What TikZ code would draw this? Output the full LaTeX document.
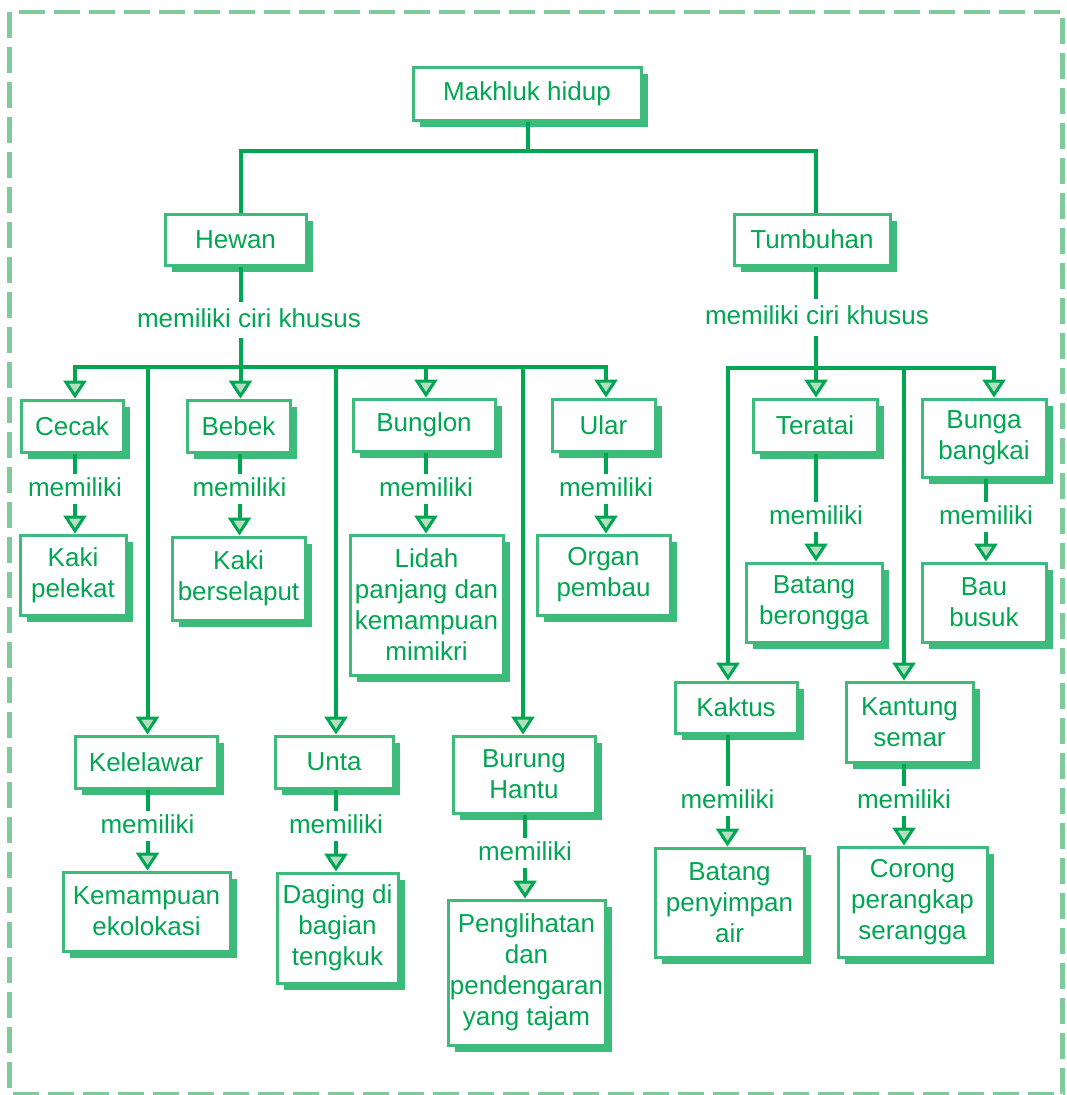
\documentclass[tikz,border=0pt]{standalone}
\usepackage{fontspec}
\setmainfont{Liberation Sans}
\usetikzlibrary{arrows.meta,shadows}
\definecolor{txtgreen}{RGB}{0,166,81}
\definecolor{linegreen}{RGB}{0,166,81}
\definecolor{boxgreen}{RGB}{61,187,122}
\definecolor{arrowfill}{RGB}{178,221,192}
\definecolor{framegreen}{RGB}{128,203,155}
\tikzset{
  box/.style={draw=boxgreen, line width=3pt, fill=white, inner sep=0pt,
    align=center, text=txtgreen,
    font=\fontsize{26}{31}\selectfont,
    general shadow={fill=boxgreen, shadow xshift=7pt, shadow yshift=-6.5pt}},
  lbl/.style={inner sep=0pt, text=txtgreen, font=\fontsize{26}{31}\selectfont,
    minimum height=29pt, text height=19pt, text depth=5pt},
  biglbl/.style={lbl, minimum height=36pt},
  ln/.style={draw=linegreen, line width=4pt},
  arr/.style={ln, -{Triangle[width=23pt 0 1,length=18pt 0 1,line width=3pt,fill=arrowfill]}},
}
\begin{document}
\begin{tikzpicture}[x=1pt,y=-1pt]
\useasboundingbox (0,0) rectangle (1066,1095);
\draw[framegreen, line width=4.5pt, dash pattern=on 26pt off 9pt] (9.5,12) rectangle (1062.5,1094);

% top level
\node[box, minimum width=228pt, minimum height=53pt] (mh) at (527,93.5) {Makhluk hidup};
\node[box, minimum width=141pt, minimum height=51pt] (hewan) at (235.5,239.5) {Hewan};
\node[box, minimum width=156pt, minimum height=51pt] (tumbuhan) at (812,239.5) {Tumbuhan};
\node[biglbl] (lh) at (249,320) {memiliki ciri khusus};
\node[biglbl] (lt) at (817,317.5) {memiliki ciri khusus};

\coordinate (j0) at (528,151);
\coordinate (hb) at (240.5,367);
\coordinate (tb) at (816,367.5);

\draw[ln] (j0 |- mh.south) -- (j0);
\draw[ln] (j0) -| (hb |- hewan.north);
\draw[ln] (j0) -| (tb |- tumbuhan.north);
\draw[ln] (hb |- hewan.south) -- (hb |- lh.north);
\draw[ln] (hb |- lh.south) -- (hb);
\draw[ln] (tb |- tumbuhan.south) -- (tb |- lt.north);
\draw[ln] (tb |- lt.south) -- (tb);

% Hewan children
\node[box, minimum width=102pt, minimum height=52pt] (cecak) at (72,426) {Cecak};
\node[box, minimum width=103pt, minimum height=52pt] (bebek) at (238.5,426) {Bebek};
\node[box, minimum width=142pt, minimum height=52pt] (bunglon) at (424,425) {Bunglon};
\node[box, minimum width=103pt, minimum height=52pt] (ular) at (603.5,425) {Ular};
\node[box, minimum width=142pt, minimum height=52pt] (kelelawar) at (146,762) {Kelelawar};
\node[box, minimum width=118pt, minimum height=52pt] (unta) at (334,762) {Unta};
\node[box, minimum width=142pt, minimum height=77pt] (burung) at (524,774.5) {Burung\\Hantu};

\coordinate (dCecak) at (75,367);
\coordinate (dKelelawar) at (147.5,367);
\coordinate (dUnta) at (336,367);
\coordinate (dBunglon) at (426,367);
\coordinate (dBurung) at (523,367);
\coordinate (dUlar) at (606,367);

\draw[arr] (hb) -| (dCecak |- cecak.north);
\draw[arr] (hb) -| (dUlar |- ular.north);
\draw[arr] (hb) -- (hb |- bebek.north);
\draw[arr] (dBunglon) -- (dBunglon |- bunglon.north);
\draw[arr] (dKelelawar) -- (dKelelawar |- kelelawar.north);
\draw[arr] (dUnta) -- (dUnta |- unta.north);
\draw[arr] (dBurung) -- (dBurung |- burung.north);

% Hewan grandchildren
\node[box, minimum width=106pt, minimum height=80pt] (kaki1) at (73,575) {Kaki\\pelekat};
\node[box, minimum width=133pt, minimum height=83pt] (kaki2) at (238.5,578.5) {Kaki\\berselaput};
\node[box, minimum width=153pt, minimum height=140pt] (lidah) at (426.5,605) {Lidah\\panjang dan\\kemampuan\\mimikri};
\node[box, minimum width=133pt, minimum height=80pt] (organ) at (603.5,575) {Organ\\pembau};
\node[box, minimum width=167pt, minimum height=79pt] (ekolok) at (146.5,911.5) {Kemampuan\\ekolokasi};
\node[box, minimum width=121pt, minimum height=110pt] (daging) at (337.5,928) {Daging di\\bagian\\tengkuk};
\node[box, minimum width=157pt, minimum height=145pt] (pengl) at (526.5,972.5) {Penglihatan\\dan\\pendengaran\\yang tajam};

\node[lbl] (m1) at (75,489) {memiliki};
\node[lbl] (m2) at (239.5,489) {memiliki};
\node[lbl] (m3) at (426,489) {memiliki};
\node[lbl] (m4) at (606,489) {memiliki};
\node[lbl] (m5) at (147.5,826) {memiliki};
\node[lbl] (m6) at (336,826) {memiliki};
\node[lbl] (m7) at (525,853) {memiliki};

\draw[ln] (m1.north |- cecak.south) -- (m1.north);
\draw[arr] (m1.south) -- (m1.south |- kaki1.north);
\draw[ln] (m2.north |- bebek.south) -- (m2.north);
\draw[arr] (m2.south) -- (m2.south |- kaki2.north);
\draw[ln] (m3.north |- bunglon.south) -- (m3.north);
\draw[arr] (m3.south) -- (m3.south |- lidah.north);
\draw[ln] (m4.north |- ular.south) -- (m4.north);
\draw[arr] (m4.south) -- (m4.south |- organ.north);
\draw[ln] (m5.north |- kelelawar.south) -- (m5.north);
\draw[arr] (m5.south) -- (m5.south |- ekolok.north);
\draw[ln] (m6.north |- unta.south) -- (m6.north);
\draw[arr] (m6.south) -- (m6.south |- daging.north);
\draw[ln] (m7.north |- burung.south) -- (m7.north);
\draw[arr] (m7.south) -- (m7.south |- pengl.north);

% Tumbuhan children
\node[box, minimum width=124pt, minimum height=53pt] (teratai) at (815,425.5) {Teratai};
\node[box, minimum width=124pt, minimum height=78pt] (bb) at (984,438) {Bunga\\bangkai};
\node[box, minimum width=122pt, minimum height=51pt] (kaktus) at (736,707.5) {Kaktus};
\node[box, minimum width=127pt, minimum height=80pt] (kantung) at (909.5,722) {Kantung\\semar};

\coordinate (dKaktus) at (728,367.5);
\coordinate (dKantung) at (904,367.5);
\coordinate (dBb) at (994,367.5);

\draw[arr] (tb) -| (dKaktus |- kaktus.north);
\draw[arr] (tb) -| (dBb |- bb.north);
\draw[arr] (tb) -- (tb |- teratai.north);
\draw[arr] (dKantung) -- (dKantung |- kantung.north);

\node[box, minimum width=136pt, minimum height=79pt] (batang1) at (814,602.5) {Batang\\berongga};
\node[box, minimum width=124pt, minimum height=79pt] (bau) at (984,602.5) {Bau\\busuk};
\node[box, minimum width=149pt, minimum height=109pt] (batang2) at (729.5,902.5) {Batang\\penyimpan\\air};
\node[box, minimum width=149pt, minimum height=110pt] (corong) at (912.5,902) {Corong\\perangkap\\serangga};

\node[lbl] (m8) at (816,517) {memiliki};
\node[lbl] (m9) at (986,517) {memiliki};
\node[lbl] (m10) at (727.5,801) {memiliki};
\node[lbl] (m11) at (904,801) {memiliki};

\draw[ln] (m8.north |- teratai.south) -- (m8.north);
\draw[arr] (m8.south) -- (m8.south |- batang1.north);
\draw[ln] (m9.north |- bb.south) -- (m9.north);
\draw[arr] (m9.south) -- (m9.south |- bau.north);
\draw[ln] (m10.north |- kaktus.south) -- (m10.north);
\draw[arr] (m10.south) -- (m10.south |- batang2.north);
\draw[ln] (m11.north |- kantung.south) -- (m11.north);
\draw[arr] (m11.south) -- (m11.south |- corong.north);
\end{tikzpicture}
\end{document}
